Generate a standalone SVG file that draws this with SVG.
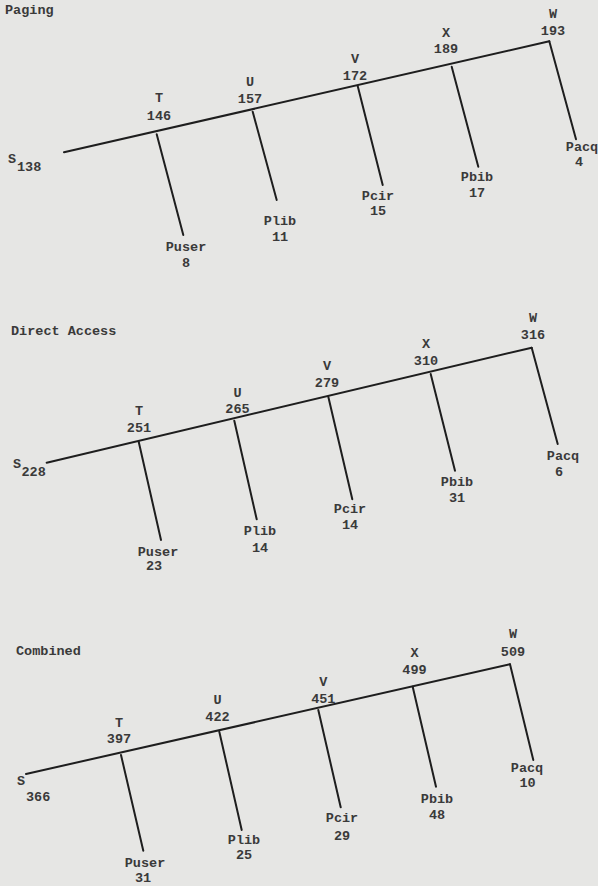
<svg xmlns="http://www.w3.org/2000/svg" width="598" height="886" viewBox="0 0 598 886">
<style>
text{font-family:"Liberation Mono","DejaVu Sans Mono",monospace;font-size:13.5px;font-weight:bold;fill:#3a3a3a;text-anchor:middle}
.title{text-anchor:start}
.st{text-anchor:start}
line,polyline{stroke:#1e1e1e;stroke-width:2;fill:none;stroke-linecap:round}
</style>
<rect width="598" height="886" fill="#e6e6e4"/>

<!-- Panel 1: Paging -->
<g id="paging">
<text class="title" x="5" y="14">Paging</text>
<g id="p1-connectors">
<line x1="64" y1="152.3" x2="549.3" y2="41.3"/>
<line x1="156.7" y1="134.3" x2="183.3" y2="235"/>
<line x1="252.7" y1="111.7" x2="276.7" y2="200"/>
<line x1="357.7" y1="86" x2="382.7" y2="185"/>
<line x1="451.7" y1="66.7" x2="478.3" y2="166.7"/>
<line x1="549.3" y1="41.3" x2="576" y2="139.3"/>
</g>
<g id="p1-S"><text class="st" x="8" y="163">S</text><text class="st" x="17" y="171">138</text></g>
<g id="p1-T"><text x="159" y="102">T</text><text x="159" y="120">146</text></g>
<g id="p1-U"><text x="250" y="86">U</text><text x="250" y="103">157</text></g>
<g id="p1-V"><text x="355" y="63">V</text><text x="355" y="80">172</text></g>
<g id="p1-X"><text x="446" y="37">X</text><text x="446" y="53">189</text></g>
<g id="p1-W"><text x="553" y="18">W</text><text x="553" y="35">193</text></g>
<g id="p1-Puser"><text x="186" y="251">Puser</text><text x="186" y="267">8</text></g>
<g id="p1-Plib"><text x="280" y="225">Plib</text><text x="280" y="241">11</text></g>
<g id="p1-Pcir"><text x="378" y="200">Pcir</text><text x="378" y="215">15</text></g>
<g id="p1-Pbib"><text x="477" y="181">Pbib</text><text x="477" y="197">17</text></g>
<g id="p1-Pacq"><text x="582" y="151">Pacq</text><text x="579" y="166">4</text></g>
</g>

<!-- Panel 2: Direct Access -->
<g id="direct">
<text class="title" x="11" y="335">Direct Access</text>
<g id="p2-connectors">
<line x1="46.7" y1="462.7" x2="531.7" y2="347.7"/>
<line x1="138.7" y1="441.7" x2="161" y2="540"/>
<line x1="234.3" y1="420.7" x2="256.7" y2="519.3"/>
<line x1="328.3" y1="396.7" x2="352.3" y2="499.3"/>
<line x1="430.7" y1="374" x2="455" y2="470.7"/>
<line x1="531.7" y1="347.7" x2="557.7" y2="444"/>
</g>
<g id="p2-S"><text class="st" x="13" y="468">S</text><text class="st" x="21.5" y="476">228</text></g>
<g id="p2-T"><text x="139" y="415">T</text><text x="139" y="432">251</text></g>
<g id="p2-U"><text x="237.5" y="397">U</text><text x="237.5" y="413">265</text></g>
<g id="p2-V"><text x="327" y="370">V</text><text x="327" y="387">279</text></g>
<g id="p2-X"><text x="426" y="348">X</text><text x="426" y="365">310</text></g>
<g id="p2-W"><text x="533" y="322">W</text><text x="533" y="339">316</text></g>
<g id="p2-Puser"><text x="158" y="556">Puser</text><text x="154" y="570">23</text></g>
<g id="p2-Plib"><text x="260" y="535">Plib</text><text x="260" y="552">14</text></g>
<g id="p2-Pcir"><text x="350" y="513">Pcir</text><text x="350" y="529">14</text></g>
<g id="p2-Pbib"><text x="457" y="486">Pbib</text><text x="457" y="502">31</text></g>
<g id="p2-Pacq"><text x="563" y="460">Pacq</text><text x="559" y="476">6</text></g>
</g>

<!-- Panel 3: Combined -->
<g id="combined">
<text class="title" x="16" y="655">Combined</text>
<g id="p3-connectors">
<line x1="26" y1="774" x2="510" y2="664.3"/>
<line x1="121" y1="755" x2="143.3" y2="850.7"/>
<line x1="219.3" y1="731.7" x2="241.7" y2="830"/>
<line x1="318.3" y1="710" x2="340.7" y2="807.3"/>
<line x1="412.7" y1="686.7" x2="436" y2="786.7"/>
<line x1="510" y1="664.3" x2="533.3" y2="760"/>
</g>
<g id="p3-S"><text x="21" y="785">S</text><text class="st" x="26" y="801">366</text></g>
<g id="p3-T"><text x="119" y="727">T</text><text x="119" y="743">397</text></g>
<g id="p3-U"><text x="217.5" y="704">U</text><text x="217.5" y="721">422</text></g>
<g id="p3-V"><text x="323.3" y="686">V</text><text x="323.3" y="703">451</text></g>
<g id="p3-X"><text x="414.5" y="657">X</text><text x="414.5" y="674">499</text></g>
<g id="p3-W"><text x="513" y="638">W</text><text x="513" y="656">509</text></g>
<g id="p3-Puser"><text x="145" y="867">Puser</text><text x="143" y="882">31</text></g>
<g id="p3-Plib"><text x="244" y="844">Plib</text><text x="244" y="859">25</text></g>
<g id="p3-Pcir"><text x="342" y="822">Pcir</text><text x="342" y="840">29</text></g>
<g id="p3-Pbib"><text x="437" y="803">Pbib</text><text x="437" y="819">48</text></g>
<g id="p3-Pacq"><text x="527" y="772">Pacq</text><text x="527.5" y="787">10</text></g>
</g>
</svg>
